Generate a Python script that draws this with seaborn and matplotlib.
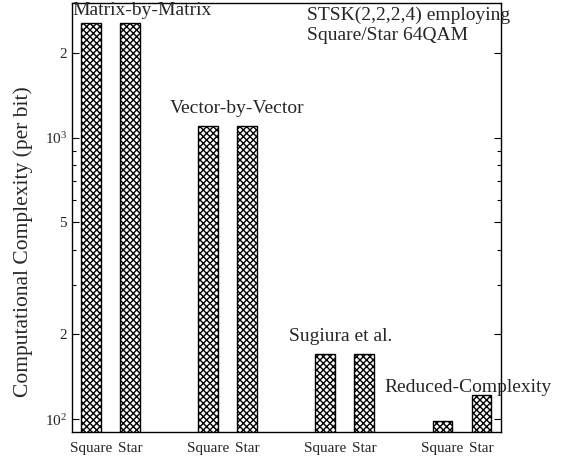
import numpy as np
import pandas as pd
import matplotlib
matplotlib.use("Agg")
import matplotlib.pyplot as plt
import seaborn as sns
from matplotlib.ticker import FixedLocator, FixedFormatter, NullFormatter

# ---- data ----
methods = ["Matrix-by-Matrix", "Vector-by-Vector", "Sugiura et al.", "Reduced-Complexity"]
constellations = ["Square", "Star"]
square_vals = [2550, 1100, 171, 98.6]
star_vals = [2550, 1100, 171, 122]
ytick_vals = [100, 200, 500, 1000, 2000]
ytick_labels = [r"10$^2$", "2", "5", r"10$^3$", "2"]
title_text = "STSK(2,2,2,4) employing\nSquare/Star 64QAM"
ylabel_text = "Computational Complexity (per bit)"

rows = []
for g, m in enumerate(methods):
    for j, (c, v) in enumerate(zip(constellations, [square_vals[g], star_vals[g]])):
        rows.append({"method": m, "const": c, "pos": 3 * g + j, "value": v})
df = pd.DataFrame(rows)

sns.set_style("ticks")
plt.rcParams["font.family"] = ["Liberation Serif", "DejaVu Serif"]
plt.rcParams["mathtext.fontset"] = "custom"
plt.rcParams["mathtext.rm"] = "Liberation Serif"
plt.rcParams["mathtext.it"] = "Liberation Serif:italic"
plt.rcParams["hatch.linewidth"] = 1.0
plt.rcParams["hatch.color"] = "black"

fig = plt.figure(figsize=(5.76, 4.61), dpi=100)
ax = fig.add_axes([0.1245, 0.0629, 0.7453, 0.9299])

sns.barplot(data=df, x="pos", y="value", native_scale=True, width=0.51,
            color="white", saturation=1, edgecolor="black", linewidth=1.0,
            hatch="xxxxx", errorbar=None, ax=ax)

ax.set_yscale("log")
ax.set_ylim(90, 3000)
ax.set_xlim(-0.5, 10.5)

ax.yaxis.set_major_locator(FixedLocator(ytick_vals))
ax.yaxis.set_major_formatter(FixedFormatter(ytick_labels))
minor = [300, 400, 600, 700, 800, 900]
ax.yaxis.set_minor_locator(FixedLocator(minor))
ax.yaxis.set_minor_formatter(NullFormatter())
ax.tick_params(axis="y", which="both", direction="in", left=True, right=True,
               labelsize=11, color="black")
ax.tick_params(axis="y", which="major", length=5, width=0.8)
ax.tick_params(axis="y", which="minor", length=3, width=0.8)

ax.set_xticks(df["pos"].tolist())
ax.set_xticklabels(df["const"].tolist())
ax.tick_params(axis="x", length=0, labelsize=11, pad=7)
ax.set_xlabel("")
ax.set_ylabel(ylabel_text, fontsize=15.5)
ax.yaxis.set_label_coords(-0.090, 0.443)

for s in ax.spines.values():
    s.set_visible(True)
    s.set_linewidth(1.0)
    s.set_color("black")

# annotations
ax.text(-0.49, 2830, methods[0], fontsize=14, ha="left", va="center")
ax.text(2.02, 1270, methods[1], fontsize=14, ha="left", va="center")
ax.text(5.07, 196, methods[2], fontsize=14, ha="left", va="center")
ax.text(7.50, 130, methods[3], fontsize=14, ha="left", va="center", clip_on=False)
ax.text(5.53, 2930, title_text, fontsize=14, ha="left", va="top",
        linespacing=1.25, clip_on=False)

fig.savefig("out.png", dpi=100)
